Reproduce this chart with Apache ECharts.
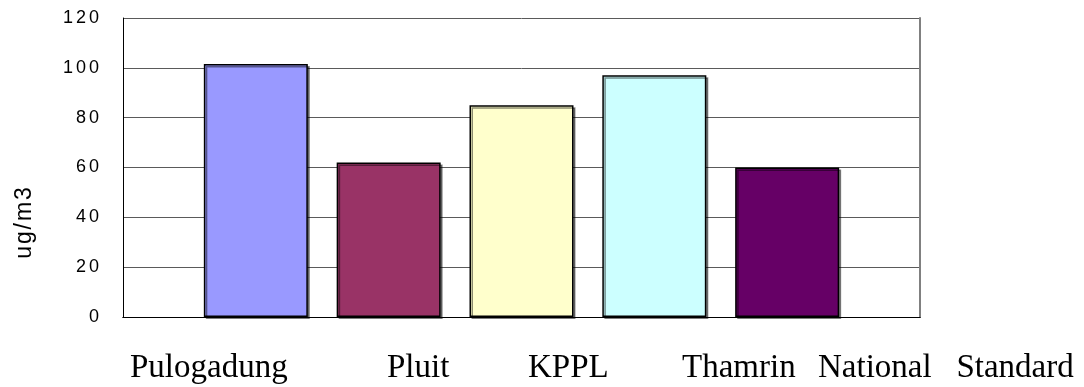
<!DOCTYPE html>
<html>
<head>
<meta charset="utf-8">
<style>
  html, body { margin: 0; padding: 0; background: #ffffff; }
  #chart { width: 1084px; height: 387px; }
</style>
<script src="https://cdn.jsdelivr.net/npm/echarts@6/dist/echarts.min.js"></script>
</head>
<body>
<div id="chart"></div>
<script>
// Measurement sites and their concentrations (ug/m3)
const sites = ['Pulogadung', 'Pluit', 'KPPL', 'Thamrin', 'National Standard'];
const values = [101.5, 62, 85, 97, 60];
const barColors = ['#9999FF', '#993366', '#FFFFCC', '#CCFFFF', '#660066'];
const yTicks = [0, 20, 40, 60, 80, 100, 120];
const unitLabel = 'ug/m3';

// Left edge of each site name in the caption row beneath the plot
const captionX = [130, 387, 528, 682, 818];

const NARROW = '\u2006';
const HAIR = '\u200A';
const spaced = (s, sep) => String(s).split('').join(sep);

// one empty slot on each side of the five bars
const slots = [''].concat(sites, ['']);
const barData = [null].concat(values.map((v, i) => ({
  value: v,
  itemStyle: { color: barColors[i] }
})), [null]);

const chart = echarts.init(document.getElementById('chart'), null, { renderer: 'canvas' });

const captionTexts = sites.map((name, i) => ({
  type: 'text',
  left: captionX[i],
  top: 352,
  style: {
    text: name.split(' ').join('\u2002 '),
    font: '33px "Liberation Serif", "Times New Roman", serif',
    fill: '#000000'
  }
}));

chart.setOption({
  animation: false,
  backgroundColor: '#ffffff',
  grid: { left: 123, top: 18, right: 164, bottom: 70, containLabel: false },
  xAxis: [{
    type: 'category',
    data: slots,
    boundaryGap: false,
    axisLine: { show: true, lineStyle: { color: '#000000', width: 1 } },
    axisTick: { show: false },
    axisLabel: { show: false },
    splitLine: { show: false }
  }, {
    type: 'category',
    data: slots,
    position: 'top',
    boundaryGap: false,
    axisLine: { show: true, lineStyle: { color: '#000000', width: 1 } },
    axisTick: { show: false },
    axisLabel: { show: false },
    splitLine: { show: false }
  }],
  yAxis: [{
    type: 'value',
    min: yTicks[0],
    max: yTicks[yTicks.length - 1],
    interval: yTicks[1] - yTicks[0],
    axisLine: { show: true, lineStyle: { color: '#000000', width: 1 } },
    axisTick: { show: false },
    axisLabel: {
      color: '#000000',
      fontFamily: '"Liberation Sans", Arial, sans-serif',
      fontSize: 18,
      margin: 24,
      padding: [4, 0, 0, 0],
      formatter: v => spaced(v, NARROW)
    },
    splitLine: { show: true, lineStyle: { color: '#5a5a5a', width: 1 } }
  }, {
    type: 'value',
    position: 'right',
    min: yTicks[0],
    max: yTicks[yTicks.length - 1],
    interval: yTicks[1] - yTicks[0],
    axisLine: { show: true, lineStyle: { color: '#808080', width: 2 } },
    axisTick: { show: false },
    axisLabel: { show: false },
    splitLine: { show: false }
  }],
  series: [{
    type: 'bar',
    data: barData,
    barWidth: 104,
    itemStyle: {
      borderColor: '#000000',
      borderWidth: 1.5,
      shadowColor: 'rgba(0,0,0,0.45)',
      shadowOffsetX: 2,
      shadowOffsetY: 2,
      shadowBlur: 0
    }
  }],
  graphic: [{
    type: 'text',
    x: 25,
    y: 223,
    rotation: Math.PI / 2,
    style: {
      text: spaced(unitLabel, HAIR),
      font: '23px "Liberation Sans", Arial, sans-serif',
      fill: '#000000',
      align: 'center',
      verticalAlign: 'middle'
    }
  }].concat(captionTexts)
});
</script>
</body>
</html>
